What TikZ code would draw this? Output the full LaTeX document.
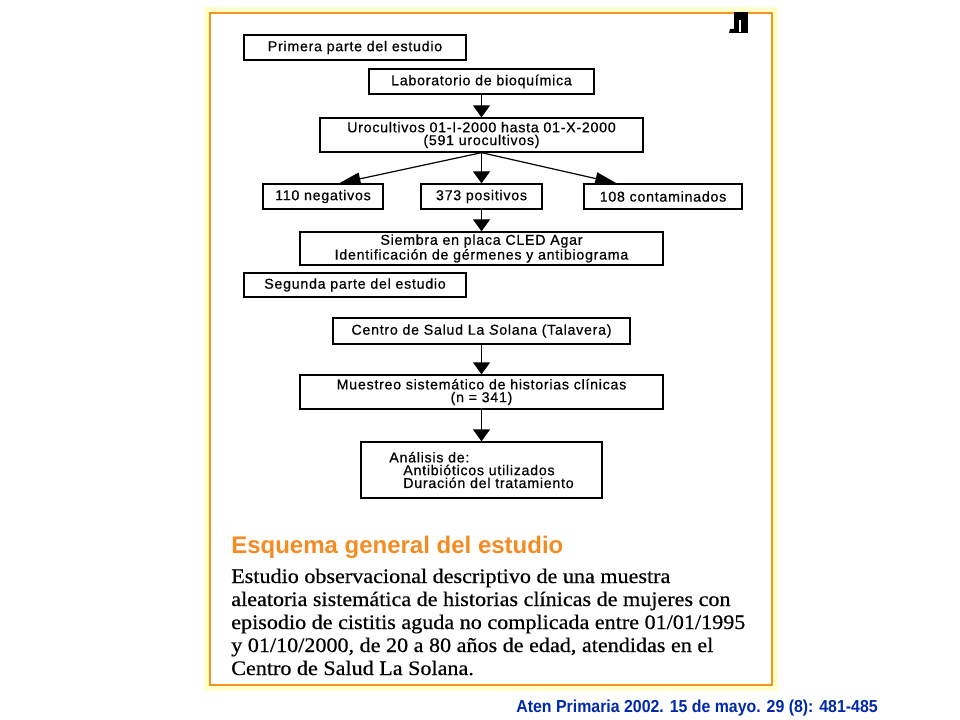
\documentclass[tikz,border=0pt]{standalone}
\usepackage{fontspec}
\setmainfont{Liberation Serif}
\newfontfamily\boxfont[LetterSpace=5,FakeBold=0.5]{Liberation Sans}
\newfontfamily\sansbold{Liberation Sans}
\newfontfamily\parafont[FakeStretch=1.07,FakeBold=0.5]{Liberation Serif}
\usetikzlibrary{arrows.meta,calc}
\definecolor{frameorange}{RGB}{247,148,30}
\definecolor{glowyellow}{RGB}{255,255,204}
\definecolor{titleorange}{RGB}{244,140,36}
\definecolor{citeblue}{RGB}{0,40,170}
\begin{document}
\begin{tikzpicture}[x=0.75pt,y=-0.75pt,
  box/.style={draw, line width=1pt, inner sep=0pt, align=center, anchor=center,
    font=\boxfont\fontsize{10.7}{9.6}\selectfont},
  arr/.style={line width=1pt, -{Triangle[length=9pt,width=12.75pt]}},
  arrd/.style={line width=0.9pt, -{Triangle[length=16pt,width=9.5pt]}},
  para/.style={anchor=base west, inner sep=0pt, font=\parafont\fontsize{15.5}{17}\selectfont}
]
% page
\fill[white] (0,0) rectangle (960,720);
% frame
\draw[glowyellow, line width=4pt] (207,10) rectangle (775,688);
\draw[frameorange, line width=2pt] (210,13) rectangle (772,685);
% tab glyph
\fill[black] (734,12) rectangle (748,33);
\fill[black] (729,33) -- (730,29) -- (734,29) -- (734,33) -- cycle;
\fill[white] (739,20) rectangle (741,32);

% boxes
\node[box, minimum width=166.5pt, minimum height=18.75pt] (prim) at (355,47.5) {Primera parte del estudio};
\node[box, minimum width=168.75pt, minimum height=18.75pt] (lab) at (481.5,81.5) {Laboratorio de bioquímica};
\node[box, minimum width=242.25pt, minimum height=25.5pt] (uro) at (481.5,135) {Urocultivos 01-I-2000 hasta 01-X-2000\\(591 urocultivos)};
\node[box, minimum width=90pt, minimum height=18.75pt] (neg) at (323,196.5) {110 negativos};
\node[box, minimum width=90.75pt, minimum height=18.75pt] (pos) at (481.5,196.5) {373 positivos};
\node[box, minimum width=118.5pt, minimum height=18.75pt] (cont) at (663,196.5) {108 contaminados};
\node[box, minimum width=272.25pt, minimum height=24.75pt] (siem) at (481.5,248.5) {Siembra en placa CLED Agar\\Identificación de gérmenes y antibiograma};
\node[box, minimum width=166.5pt, minimum height=18pt] (seg) at (355,285) {Segunda parte del estudio};
\node[box, minimum width=222.75pt, minimum height=19.5pt] (cent) at (481.5,331) {Centro de Salud La \textit{S}olana (Talavera)};
\node[box, minimum width=272.25pt, minimum height=25.5pt] (mues) at (481.5,392) {Muestreo sistemático de historias clínicas\\(n = 341)};
\node[box, minimum width=180.75pt, minimum height=42pt, align=left] (anal) at (481.5,470) {Análisis de:\\\hspace*{10.5pt}Antibióticos utilizados\\\hspace*{10.5pt}Duración del tratamiento};

% connectors
\coordinate (negtip) at ($(neg.north west)!0.633!(neg.north east)$);
\coordinate (conttip) at ($(cont.north west)!0.209!(cont.north east)$);
\draw[arr] (lab.south) -- (lab.south |- uro.north);
\draw[arr] (uro.south) -- (uro.south |- pos.north);
\draw[arrd] (uro.south) -- (negtip);
\draw[arrd] (uro.south) -- (conttip);
\draw[arr] (pos.south) -- (pos.south |- siem.north);
\draw[arr] (cent.south) -- (cent.south |- mues.north);
\draw[arr] (mues.south) -- (mues.south |- anal.north);

% title and text
\node[anchor=base west, inner sep=0pt, text=titleorange,
  font=\sansbold\bfseries\fontsize{18}{18}\selectfont] (title) at (231,553) {Esquema general del estudio};
\node[para] (p1) at (231,583) {Estudio observacional descriptivo de una muestra};
\node[para] (p2) at (231,606) {aleatoria sistemática de historias clínicas de mujeres con};
\node[para] (p3) at (231,629) {episodio de cistitis aguda no complicada entre 01/01/1995};
\node[para] (p4) at (231,652) {y 01/10/2000, de 20 a 80 años de edad, atendidas en el};
\node[para] (p5) at (231,675) {Centro de Salud La Solana.};

% citation
\node[anchor=base east, inner sep=0pt, text=citeblue,
  font=\sansbold\bfseries\fontsize{13}{13}\selectfont] (cite) at (878,712)
  {\scalebox{0.917}[1]{Aten Primaria 2002. 15 de mayo. 29 (8): 481-485}};
\end{tikzpicture}
\end{document}
